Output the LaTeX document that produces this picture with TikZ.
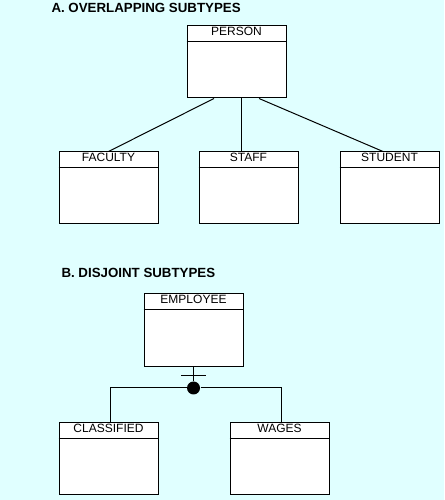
\documentclass[tikz,border=0pt]{standalone}
\usepackage{fontspec}
\setmainfont{Liberation Sans}
\usepackage{tikz}
\usepackage{xcolor}

\definecolor{bgcyan}{RGB}{224,255,255}

\begin{document}
\begin{tikzpicture}[x=1pt,y=1pt,line width=1pt,
  entity/.style={draw,fill=white,minimum width=99pt,minimum height=72pt,inner sep=0pt},
  entname/.style={anchor=north,inner sep=1.5pt,font=\fontsize{12}{14}\selectfont},
  heading/.style={anchor=west,inner sep=0pt,font=\fontsize{13.3}{15}\selectfont\bfseries},
  joindot/.style={circle,fill=black,inner sep=0pt,minimum size=13pt}]
\fill[bgcyan] (0,0) rectangle (444,500);
\useasboundingbox (0,0) rectangle (444,500);

% A. overlapping
\node[heading] (titlea) at (51,492) {A. OVERLAPPING SUBTYPES};

\node[entity] (person) at (236.5,438) {};
\node[entity] (faculty) at (108.5,312) {};
\node[entity] (staff) at (248.5,312) {};
\node[entity] (student) at (389.5,312) {};

\draw ([xshift=-22.5pt]person.south) -- (faculty.north);
\draw ([xshift=4.5pt]person.south) -- ([xshift=-7.5pt]staff.north);
\draw ([xshift=22.5pt]person.south) -- ([xshift=-6.5pt]student.north);

% B. disjoint
\node[heading] (titleb) at (61,227) {B. DISJOINT SUBTYPES};

\node[entity,minimum height=73pt] (employee) at (193.5,169.5) {};
\node[entity] (classified) at (108.5,41) {};
\node[entity] (wages) at (279.5,41) {};

\node[joindot] (split) at (193.5,112) {};
\coordinate (bar) at (193.5,124);
\draw (employee.south) -- (split);
\draw ([xshift=-12.5pt]bar) -- ([xshift=12.5pt]bar);
\draw (split) -| ([xshift=1.5pt]classified.north);
\draw (split) -| ([xshift=1.5pt]wages.north);

% header lines and names
\foreach \n in {person,faculty,staff,student,employee,classified,wages}
  \draw ([yshift=-16pt]\n.north west) -- ([yshift=-16pt]\n.north east);

\node[entname] (personname) at (person.north) {PERSON};
\node[entname] (facultyname) at (faculty.north) {FACULTY};
\node[entname] (staffname) at (staff.north) {STAFF};
\node[entname] (studentname) at (student.north) {STUDENT};
\node[entname] (employeename) at (employee.north) {EMPLOYEE};
\node[entname] (classifiedname) at (classified.north) {CLASSIFIED};
\node[entname] (wagesname) at (wages.north) {WAGES};
\end{tikzpicture}
\end{document}
